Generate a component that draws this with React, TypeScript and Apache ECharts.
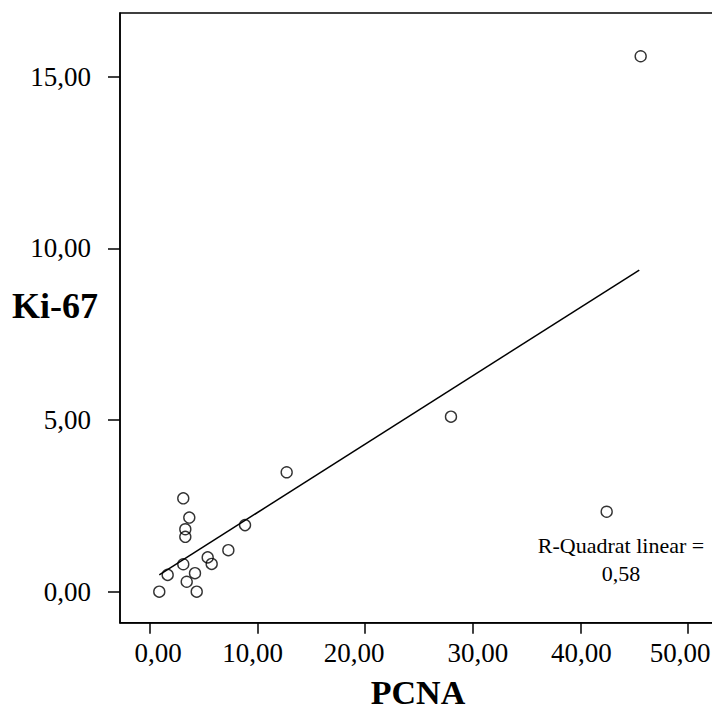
import React, { useEffect, useRef } from "react";
import * as echarts from "echarts";

const pcna = [45.6, 27.97, 12.7, 42.44, 3.09, 3.65, 3.28, 3.28, 8.83, 7.28, 5.36, 5.73, 3.09, 1.64, 4.18, 3.41, 0.86, 4.34];
const ki67 = [15.6, 5.1, 3.48, 2.33, 2.72, 2.16, 1.82, 1.6, 1.94, 1.21, 1.0, 0.81, 0.8, 0.49, 0.54, 0.29, 0.0, 0.0];

const fitX = [0.86, 45.47];
const fitY = [0.49, 9.37];

const xTicks = [0, 10, 20, 30, 40, 50];
const yTicks = [0, 5, 10, 15];

const xName = "PCNA";
const yName = "Ki-67";
const r2Label = "R-Quadrat linear =";
const r2Value = "0,58";

const fmt = (v: number) => v.toFixed(2).replace(".", ",");

// horizontal nudges of the x tick labels, as placed in the original
const xLabelShift: Record<string, number> = { "0": 8, "10": -5, "20": -11, "30": 5, "40": 1, "50": -8 };

export default function App() {
  const ref = useRef<HTMLDivElement>(null);
  useEffect(() => {
    if (!ref.current) return;
    const chart = echarts.init(ref.current, null, { renderer: "svg" });
    const font = "'Liberation Serif', 'Times New Roman', serif";
    const points = pcna.map((x, i) => [x, ki67[i]]);
    const rich: Record<string, any> = {};
    Object.keys(xLabelShift).forEach((k) => {
      const s = xLabelShift[k];
      rich["s" + k] = {
        fontFamily: font,
        fontSize: 27,
        color: "#000",
        padding: s >= 0 ? [0, 0, 0, 2 * s] : [0, -2 * s, 0, 0],
      };
    });
    chart.setOption({
      animation: false,
      backgroundColor: "#fff",
      grid: {
        left: 120,
        top: 13,
        right: -4,
        bottom: 88.3,
        outerBoundsMode: "none",
        containLabel: false,
        show: true,
        borderColor: "#000",
        borderWidth: 1.5,
      },
      xAxis: {
        type: "value",
        min: -2.79,
        max: 52.6,
        splitLine: { show: false },
        axisLine: { show: true, onZero: false, lineStyle: { color: "#000", width: 1.5 } },
        axisTick: { show: true, length: 11, customValues: xTicks, lineStyle: { color: "#000", width: 1.5 } },
        axisLabel: {
          customValues: xTicks,
          formatter: (v: number) => "{s" + Math.round(v) + "|" + fmt(v) + "}",
          rich,
          fontFamily: font,
          fontSize: 27,
          color: "#000",
          margin: 17,
        },
      },
      yAxis: {
        type: "value",
        min: -0.903,
        max: 16.86,
        splitLine: { show: false },
        axisLine: { show: true, onZero: false, lineStyle: { color: "#000", width: 1.5 } },
        axisTick: { show: true, length: 12, customValues: yTicks, lineStyle: { color: "#000", width: 1.5 } },
        axisLabel: {
          customValues: yTicks,
          formatter: (v: number) => fmt(v),
          fontFamily: font,
          fontSize: 27,
          color: "#000",
          margin: 29,
        },
      },
      series: [
        {
          type: "line",
          data: fitX.map((x, i) => [x, fitY[i]]),
          showSymbol: false,
          symbol: "none",
          lineStyle: { color: "#000", width: 1.5 },
          z: 2,
        },
        {
          type: "scatter",
          data: points,
          symbol: "circle",
          symbolSize: 11,
          itemStyle: { color: "rgba(255,255,255,0)", borderColor: "#000", borderWidth: 1.4 },
          z: 3,
        },
      ],
      graphic: [
        {
          type: "text",
          x: 55,
          y: 306,
          style: {
            text: yName,
            fontFamily: font,
            fontSize: 36,
            fontWeight: "bold",
            fill: "#000",
            align: "center",
            verticalAlign: "middle",
          },
        },
        {
          type: "text",
          x: 418,
          y: 692,
          style: {
            text: xName,
            fontFamily: font,
            fontSize: 34,
            lineHeight: 28,
            fontWeight: "bold",
            fill: "#000",
            align: "center",
            verticalAlign: "middle",
          },
        },
        {
          type: "text",
          x: 621,
          y: 559,
          style: {
            text: r2Label + "\n" + r2Value,
            fontFamily: font,
            fontSize: 22,
            lineHeight: 28,
            fill: "#000",
            align: "center",
            verticalAlign: "middle",
          },
        },
      ],
    });
    return () => chart.dispose();
  }, []);
  return (
    <div
      ref={ref}
      style={{ position: "absolute", left: 0, top: 0, width: 712, height: 711 }}
    />
  );
}
